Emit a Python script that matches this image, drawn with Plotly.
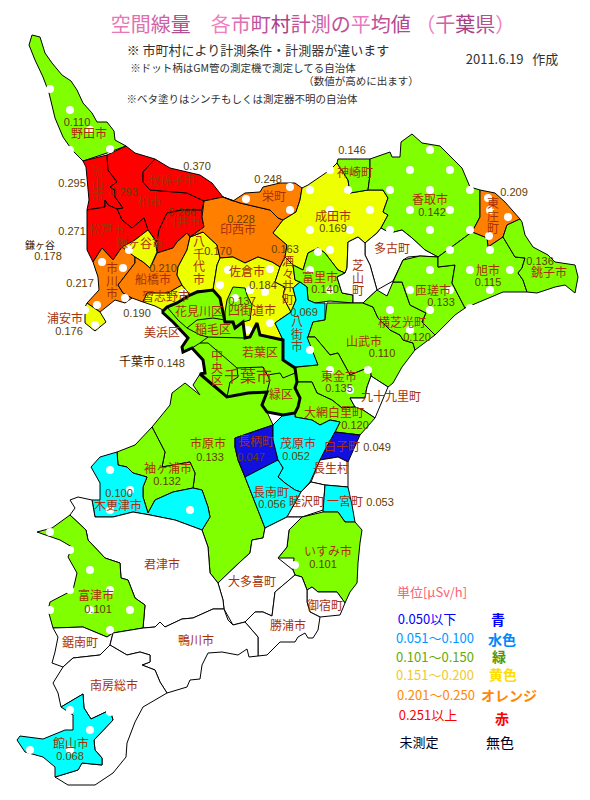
import plotly.graph_objects as go

# municipality name and measured value (None = not measured)
names = ["野田市","流山市","柏市","我孫子市","松戸市","白井市","鎌ヶ谷市","市川市","船橋市","浦安市","習志野市","八千代市",
         "印西市","栄町","成田市","神崎町","香取市","東庄町","佐倉市","四街道市","酒々井町","富里市","八街市","多古町","芝山町",
         "山武市","横芝光町","匝瑳市","旭市","銚子市","東金市","九十九里町","大網白里町","千葉市","市原市","袖ヶ浦市","木更津市",
         "長柄町","茂原市","白子町","長生村","長南町","睦沢町","一宮町","いすみ市","大多喜町","御宿町","勝浦市","君津市","富津市",
         "鋸南町","鴨川市","南房総市","館山市"]
values = [0.110,0.295,0.293,0.370,0.271,0.266,0.178,0.217,0.210,0.176,0.190,0.170,
          0.228,0.248,0.169,0.146,0.142,0.209,0.184,0.137,0.163,0.140,0.069,None,None,
          0.110,0.120,0.133,0.115,0.136,0.135,None,0.120,0.148,0.133,0.132,0.100,
          0.047,0.052,0.049,None,0.056,None,0.053,0.101,None,None,None,None,0.101,
          None,None,None,0.068]

# outlines (pixel positions)
outlines = {
"野田市":[(32,35),(40,37),(45,53),(52,63),(62,75),(71,81),(77,90),(83,103),(92,113),(97,122),(107,122),(114,131),(115,140),(126,146),(107,153),(83,161),(72,150),(63,137),(55,118),(49,93),(43,77),(35,60),(29,45)],
"流山市":[(83,161),(107,155),(108,170),(117,182),(110,187),(115,190),(115,197),(123,208),(117,209),(108,205),(105,200),(105,207),(87,210),(89,200),(86,167)],
"柏市":[(126,146),(135,153),(155,159),(143,172),(143,182),(150,190),(187,193),(204,201),(202,210),(182,210),(167,213),(159,230),(157,242),(148,230),(144,218),(132,228),(122,220),(117,209),(123,208),(115,197),(115,190),(110,187),(117,182),(108,170),(107,155)],
"我孫子市":[(155,159),(170,168),(200,175),(212,183),(223,197),(204,201),(187,193),(150,190),(143,182),(143,172)],
"松戸市":[(87,210),(105,207),(105,200),(108,205),(117,209),(122,220),(132,228),(144,218),(148,230),(135,240),(122,247),(113,260),(102,248),(93,262),(87,250)],
"白井市":[(167,213),(182,210),(202,210),(202,217),(204,227),(190,237),(187,233),(177,242),(173,248),(157,253),(157,242),(159,230)],
"鎌ヶ谷市":[(148,230),(155,240),(157,252),(153,262),(150,268),(143,262),(135,257),(127,252),(122,247),(135,240)],
"市川市":[(93,262),(102,248),(113,260),(122,247),(135,257),(135,263),(118,285),(123,293),(132,298),(125,303),(115,300),(100,312),(87,303),(99,290),(98,277)],
"船橋市":[(135,263),(135,257),(143,262),(150,268),(153,262),(157,253),(173,248),(177,242),(187,233),(190,237),(187,250),(178,267),(177,275),(182,285),(168,293),(147,293),(143,302),(132,298),(123,293),(118,285)],
"浦安市":[(85,307),(87,303),(97,310),(100,312),(106,322),(95,331),(85,323)],
"習志野市":[(147,293),(168,293),(182,285),(190,295),(178,304),(163,310),(155,306),(143,302)],
"八千代市":[(190,237),(203,232),(217,245),(220,258),(217,265),(215,278),(213,290),(197,291),(190,295),(182,285),(177,275),(178,267),(187,250)],
"印西市":[(204,201),(223,197),(240,203),(257,207),(270,210),(278,218),(283,220),(273,233),(287,245),(285,257),(280,267),(272,262),(258,257),(245,263),(233,257),(220,258),(217,245),(203,232),(190,237),(204,227),(202,217)],
"栄町":[(223,197),(233,201),(245,193),(260,192),(263,187),(280,183),(295,183),(302,188),(300,200),(296,212),(283,220),(278,218),(270,210),(257,207),(240,203)],
"成田市":[(302,188),(308,185),(330,170),(337,163),(348,180),(350,193),(368,190),(383,190),(388,198),(383,212),(388,215),(381,228),(377,233),(365,243),(358,237),(348,242),(347,268),(345,273),(338,270),(333,263),(325,253),(318,248),(308,253),(303,270),(293,265),(285,257),(287,245),(273,233),(283,220),(296,212),(300,200)],
"神崎町":[(337,163),(338,159),(370,159),(370,175),(368,190),(350,193),(348,180)],
"香取市":[(370,159),(390,152),(392,157),(400,157),(401,142),(412,134),(422,143),(440,146),(462,168),(470,187),(480,190),(480,217),(472,232),(438,257),(425,250),(412,238),(402,230),(390,233),(381,228),(388,215),(383,212),(388,198),(383,190),(368,190),(370,175)],
"東庄町":[(480,190),(495,193),(505,202),(520,219),(507,225),(503,237),(488,247),(487,238),(472,232),(480,217)],
"佐倉市":[(220,258),(233,257),(245,263),(258,257),(272,262),(280,267),(275,282),(285,287),(283,297),(291,312),(282,318),(275,323),(283,340),(260,335),(257,323),(250,337),(245,338),(243,322),(235,328),(233,322),(225,322),(220,298),(213,290),(215,278),(217,265)],
"四街道市":[(225,312),(227,300),(233,287),(245,288),(247,295),(252,305),(250,320),(243,322),(235,328),(233,322),(225,322)],
"酒々井町":[(280,267),(285,257),(293,265),(295,280),(300,282),(293,288),(296,300),(291,312),(283,297),(285,287),(275,282)],
"富里市":[(293,265),(303,270),(308,253),(318,248),(325,253),(333,263),(338,270),(345,273),(337,277),(342,293),(353,295),(353,303),(330,301),(315,303),(308,300),(307,287),(300,282),(295,280)],
"八街市":[(293,288),(300,282),(307,287),(308,300),(315,303),(325,303),(325,320),(313,322),(308,337),(315,355),(318,365),(298,367),(295,367),(283,360),(283,340),(275,323),(282,318),(291,312),(296,300)],
"多古町":[(365,243),(377,233),(381,228),(390,233),(402,230),(412,238),(425,250),(438,257),(420,256),(408,257),(403,260),(393,281),(377,290),(373,275),(370,265),(365,255)],
"芝山町":[(348,242),(358,237),(365,243),(365,255),(370,265),(373,275),(377,290),(363,303),(353,303),(353,295),(342,293),(337,277),(345,273),(347,268)],
"山武市":[(327,303),(353,303),(363,303),(373,307),(378,318),(390,330),(400,335),(403,340),(413,343),(415,350),(402,367),(393,383),(388,387),(371,376),(370,367),(350,375),(338,353),(330,355),(315,337),(308,337),(313,322),(325,320)],
"横芝光町":[(363,303),(377,290),(387,296),(393,282),(402,282),(410,305),(426,313),(422,322),(435,335),(415,350),(413,343),(403,340),(400,335),(390,330),(378,318),(373,307)],
"匝瑳市":[(403,260),(420,256),(438,257),(438,267),(455,265),(452,283),(465,308),(455,315),(435,335),(422,322),(426,313),(410,305),(402,282),(393,282)],
"旭市":[(438,257),(472,232),(487,238),(488,247),(503,237),(515,257),(525,258),(522,268),(518,273),(523,280),(527,292),(503,292),(465,308),(452,283),(455,265),(438,267)],
"銚子市":[(507,225),(520,219),(522,222),(525,235),(533,247),(548,255),(555,262),(575,265),(578,277),(575,293),(565,285),(555,287),(537,293),(527,292),(523,280),(518,273),(522,268),(525,258),(515,257),(503,237)],
"東金市":[(298,367),(318,365),(307,337),(315,337),(330,355),(338,353),(350,375),(370,367),(371,376),(367,387),(365,398),(350,398),(355,407),(342,408),(332,400),(317,393),(312,382),(297,382),(295,368)],
"九十九里町":[(371,376),(388,387),(375,418),(363,410),(355,407),(350,398),(365,398),(367,387)],
"大網白里町":[(297,382),(312,382),(317,393),(332,400),(342,408),(355,407),(363,410),(375,418),(360,435),(335,432),(340,422),(330,420),(320,425),(312,420),(295,417),(295,408),(298,407),(300,398),(295,388)],
"千葉市":[(162,312),(167,307),(177,303),(190,295),(197,292),(213,290),(220,298),(225,322),(233,322),(235,328),(243,322),(245,338),(250,337),(257,323),(260,335),(283,340),(283,360),(295,368),(297,382),(295,388),(300,398),(298,407),(295,413),(283,415),(267,412),(262,405),(267,392),(248,393),(227,397),(217,388),(207,380),(200,374),(205,373),(203,360),(192,348),(183,352),(182,347),(188,338),(178,327),(173,322)],
"市原市":[(200,374),(207,380),(217,388),(227,397),(248,393),(267,392),(262,405),(267,412),(273,425),(250,433),(235,438),(235,447),(238,460),(245,477),(255,503),(265,528),(263,538),(252,540),(250,553),(240,562),(218,583),(210,573),(208,547),(202,530),(210,517),(208,507),(202,490),(193,488),(195,473),(190,462),(162,467),(165,452),(152,427),(170,405),(172,393),(185,383),(200,395),(193,385)],
"袖ヶ浦市":[(152,427),(165,452),(162,467),(190,462),(195,473),(193,488),(173,492),(155,500),(148,513),(143,497),(143,487),(147,477),(133,473),(127,467),(118,465),(117,452),(135,445)],
"木更津市":[(117,452),(118,465),(127,467),(133,473),(147,477),(143,487),(143,497),(148,513),(155,500),(173,492),(193,488),(202,490),(208,507),(210,517),(202,530),(175,520),(150,515),(133,512),(113,517),(95,517),(92,500),(100,500),(100,483),(91,467),(100,457)],
"長柄町":[(235,438),(250,433),(273,425),(273,440),(278,460),(263,468),(245,477),(238,460),(235,447)],
"茂原市":[(273,425),(283,415),(295,413),(295,417),(312,420),(320,425),(330,420),(340,422),(335,432),(325,450),(320,460),(310,482),(301,492),(295,490),(285,483),(278,477),(283,468),(278,460),(273,440)],
"白子町":[(335,432),(360,435),(348,462),(338,457),(320,460),(325,450)],
"長生村":[(320,460),(338,457),(348,462),(348,487),(325,485),(311,482)],
"長南町":[(245,477),(263,468),(278,460),(283,468),(278,477),(285,483),(295,490),(301,492),(295,503),(287,517),(265,528),(255,503)],
"睦沢町":[(301,492),(311,482),(325,485),(323,510),(302,517),(287,517),(295,503)],
"一宮町":[(325,485),(348,487),(352,505),(355,522),(345,522),(338,512),(323,512)],
"いすみ市":[(302,517),(323,512),(338,512),(345,522),(355,522),(362,530),(360,543),(358,563),(357,583),(350,592),(345,603),(337,592),(318,592),(312,587),(307,590),(302,577),(295,575),(293,570),(294,558),(278,558),(287,547),(289,530)],
"大多喜町":[(265,528),(287,517),(302,517),(289,530),(287,547),(278,558),(293,570),(295,575),(287,582),(275,592),(272,616),(263,612),(255,612),(245,622),(233,625),(224,609),(223,600),(218,583),(240,562),(250,553),(252,540),(263,538)],
"御宿町":[(307,590),(312,587),(318,592),(337,592),(345,603),(340,615),(320,617),(310,612),(307,602)],
"勝浦市":[(275,592),(287,582),(295,575),(302,577),(307,590),(307,602),(310,612),(320,617),(318,630),(313,638),(308,638),(305,633),(298,637),(295,642),(280,642),(267,655),(258,656),(258,637),(245,622),(255,612),(263,612),(272,616)],
"君津市":[(70,500),(78,497),(92,500),(95,517),(113,517),(133,512),(150,515),(175,520),(202,530),(208,547),(210,573),(218,583),(223,600),(224,609),(213,609),(193,618),(182,619),(165,627),(160,622),(155,627),(143,628),(145,605),(135,598),(128,580),(121,578),(120,563),(105,558),(88,540),(86,530),(70,515),(75,508)],
"富津市":[(70,515),(86,530),(88,540),(105,558),(120,563),(121,578),(128,580),(135,598),(145,605),(143,628),(113,633),(107,637),(83,627),(53,628),(48,610),(50,602),(73,590),(77,573),(68,557),(72,547),(60,540),(37,532),(52,528)],
"鋸南町":[(53,628),(58,637),(55,652),(52,663),(63,667),(73,658),(100,655),(110,645),(113,633),(107,637),(83,627)],
"鴨川市":[(113,633),(143,628),(155,627),(160,622),(165,627),(182,619),(193,618),(213,609),(224,609),(228,620),(233,625),(245,622),(258,637),(258,656),(249,657),(247,649),(238,655),(222,652),(208,653),(202,665),(200,679),(190,680),(187,687),(167,693),(160,682),(155,670),(142,665),(150,662),(150,655),(140,652),(127,655),(115,648),(110,645)],
"南房総市":[(63,667),(73,658),(100,655),(110,645),(115,648),(127,655),(140,652),(150,655),(150,662),(142,665),(155,670),(160,682),(167,693),(143,707),(135,722),(127,743),(126,757),(113,773),(95,785),(68,785),(55,777),(78,770),(82,763),(102,765),(102,758),(95,750),(94,740),(113,720),(110,710),(91,719),(84,708),(83,694),(61,707),(58,693),(53,683)],
"館山市":[(83,694),(84,708),(91,719),(110,710),(113,720),(94,740),(95,750),(102,758),(102,765),(82,763),(78,770),(55,777),(55,767),(43,757),(25,752),(17,740),(20,736),(43,739),(65,730),(73,730),(73,715),(61,707)],
}

# thin ward lines inside Chiba city
ward_lines = [
    [(167,307),(178,320),(187,328),(197,320),(213,318),(225,320)],
    [(192,348),(200,343),(208,337),(230,338),(245,338)],
    [(187,328),(200,335),(208,337)],
    [(200,343),(208,343),(222,355),(237,368),(263,367),(267,375),(280,373),(283,378),(295,373)],
    [(237,368),(238,377),(230,382),(227,397)],
    [(263,367),(270,380),(267,392)],
]

# white dots of the GM-tube pattern
dots = [(50,89),(70,110),(90,130),(110,149),(70,150),(246,199),(290,187),(290,210),(330,170),(310,190),(348,190),(370,210),(330,210),
        (310,230),(350,230),(330,250),(318,252),(430,150),(410,170),(450,170),(390,190),(430,190),(470,190),(410,210),(450,210),(390,230),
        (430,230),(470,230),(450,250),(490,250),(488,198),(490,210),(508,217),(489,236),(430,270),(470,270),(510,270),(490,290),(410,290),
        (450,290),(390,310),(430,310),(410,330),(470,308),(330,290),(310,270),(310,350),(330,370),(350,390),(368,370),
        (228,270),(270,269),(220,285),(265,292),(250,290),(270,323),(248,330),(235,298),(183,293),(123,268),(102,262),(125,298),(97,305),
        (129,250),(85,310),(95,325),(110,470),(130,490),(110,510),(190,510),(50,610),(70,590),(90,570),(110,590),(130,610),(110,630),
        (90,610),(70,550),(50,532),(70,710),(90,730),(110,712),(30,750),(70,750),(295,565)]

name_labels = [("野田市",89,135),("柏市",150,203),("我孫子市",172,182),("松戸市",107,231),("白井市",183,223),
    ("鎌ヶ谷市",140,245),("栄町",274,198),("印西市",238,231),("成田市",333,218),
    ("神崎町",355,174),("香取市",430,201),("多古町",392,250),("富里市",320,279),
    ("佐倉市",247,273),("四街道市",252,312),("船橋市",153,281),("習志野市",166,298),
    ("浦安市",65,320),("花見川区",199,313),("稲毛区",213,331),("美浜区",162,334),("若葉区",260,354),("緑区",281,396),
    ("市原市",208,445),("袖ヶ浦市",168,470),("木更津市",118,507),("長柄町",256,443),("茂原市",298,445),("長南町",271,494),("白子町",342,448),
    ("長生村",331,470),("睦沢町",307,503),("一宮町",345,503),("いすみ市",328,553),("御宿町",325,607),("大多喜町",252,583),("勝浦市",288,627),
    ("鴨川市",196,642),("君津市",162,566),("富津市",96,597),("鋸南町",80,644),("南房総市",114,687),("館山市",71,745),("山武市",364,343),
    ("横芝光町",402,324),("匝瑳市",433,292),("旭市",488,272),("銚子市",549,274),("東金市",339,378),("九十九里町",391,398),("大網白里町",334,414)]

# labels written top to bottom: text, x, y of first character
vertical_labels = [("流山市",98,173),("八千代市",199,243),("酒々井町",288,263),("東庄町",493,205),("芝山町",358,267),
                   ("八街市",297,323),("市川市",112,270),("中央区",217,357)]

value_labels = [("0.110",77,123),("0.295",72,184),("0.293",124,193),("0.370",197,167),("0.266",182,213),("0.271",72,232),("0.178",48,257),
    ("0.248",268,180),("0.228",241,220),("0.170",218,252),("0.163",285,250),("0.169",333,229),("0.146",352,151),("0.142",432,213),("0.209",514,193),
    ("0.140",325,290),("0.184",263,286),("0.137",242,302),("0.069",304,313),("0.210",163,269),("0.217",80,284),("0.190",137,314),("0.176",69,332),
    ("0.148",171,364),("0.133",210,458),("0.132",167,482),("0.100",119,494),("0.047",251,458),("0.052",296,457),("0.056",272,505),("0.049",377,448),
    ("0.053",380,503),("0.101",323,565),("0.101",98,610),("0.068",70,757),("0.110",382,354),("0.120",417,338),("0.133",441,303),("0.115",488,283),
    ("0.136",540,262),("0.135",339,389),("0.120",355,426)]

title_chars = "空間線量　各市町村計測の平均値 （千葉県）"
title_colors = ["#e878b8","#e070b0","#d060a8","#b05090","#ffffff","#f080c0","#e070b0","#c05098","#a84088","#c05098","#d060a8","#c05098",
                "#e878c0","#c05098","#b04890","#ffffff","#f080c0","#d060a8","#a84088","#b05090","#f080c0"]

legend_ranges = ["0.050以下","0.051～0.100","0.101～0.150","0.151～0.200","0.201～0.250","0.251以上","未測定"]
legend_colors = ["#0000ff","#0099ff","#66aa00","#f0c830","#ff8800","#ff0000","#000020"]
legend_words = ["青","水色","緑","黄色","オレンジ","赤","無色"]
word_colors = ["#0000ff","#0088ff","#559900","#ffdd00","#ff8800","#ff0000","#000020"]
range_pos = [(427,621),(435,640),(435,659),(435,677),(436,697),(428,717),(419,744)]
word_pos = [(498,621),(502,641),(499,658),(503,676),(509,697),(502,720),(500,744)]

JP = "Noto Sans CJK JP"
DIGITS = "Liberation Sans"


def fill_for(v):
    if v is None:
        return "#ffffff"
    if v <= 0.050:
        return "#1010e0"
    if v <= 0.100:
        return "#00ffff"
    if v <= 0.150:
        return "#80ff00"
    if v <= 0.200:
        return "#eeff00"
    if v <= 0.250:
        return "#ff8000"
    return "#ff0000"


def add_text(fig, items, size, color, family=JP):
    fig.add_trace(go.Scatter(x=[i[1] for i in items], y=[i[2] for i in items], text=[i[0] for i in items],
                             mode="text", textposition="middle center", hoverinfo="skip",
                             textfont=dict(size=size, color=color, family=family)))


fig = go.Figure()

for name, v in zip(names, values):
    if name == "千葉市":
        continue
    pts = outlines[name]
    xs = [p[0] for p in pts] + [pts[0][0]]
    ys = [p[1] for p in pts] + [pts[0][1]]
    fig.add_trace(go.Scatter(x=xs, y=ys, mode="lines", fill="toself", fillcolor=fill_for(v),
                             line=dict(color="black", width=1), hoverinfo="skip"))

fig.add_trace(go.Scatter(x=[d[0] for d in dots], y=[d[1] for d in dots], mode="markers", hoverinfo="skip",
                         marker=dict(color="white", size=8, line=dict(width=0))))

# Chiba city goes on top with its heavy border
pts = outlines["千葉市"]
fig.add_trace(go.Scatter(x=[p[0] for p in pts] + [pts[0][0]], y=[p[1] for p in pts] + [pts[0][1]], mode="lines", fill="toself",
                         fillcolor=fill_for(values[names.index("千葉市")]), line=dict(color="black", width=3), hoverinfo="skip"))
for w in ward_lines:
    fig.add_trace(go.Scatter(x=[p[0] for p in w], y=[p[1] for p in w], mode="lines",
                             line=dict(color="black", width=1), hoverinfo="skip"))

add_text(fig, name_labels, 12, "#a83008")
vertical_items = []
for text, x, y in vertical_labels:
    for i, ch in enumerate(text):
        vertical_items.append((ch, x, y + i * 12.5))
add_text(fig, vertical_items, 12, "#a83008")
add_text(fig, value_labels, 11, "#604000", DIGITS)
add_text(fig, [("千葉市",248,378)], 16, "#a83008")
add_text(fig, [("千葉市",137,363)], 12, "#402000")
add_text(fig, [("鎌ヶ谷",40,246)], 10, "#402000")

title_html = "".join('<span style="color:%s">%s</span>' % (c, t) for t, c in zip(title_chars, title_colors))
add_text(fig, [(title_html,313,27)], 20, "#c05098")
add_text(fig, [("※ 市町村により計測条件・計測器が違います",258,52)], 13, "#303030")
add_text(fig, [("※ドット柄はGM管の測定機で測定してる自治体",243,69),("（数値が高めに出ます）",361,82),
               ("※ベタ塗りはシンチもしくは測定器不明の自治体",242,100)], 10.5, "#303030")
add_text(fig, [("2011.6.19   作成",512,61)], 13, "#303030")
add_text(fig, [("単位[μSv/h]",432,594)], 13, "#ff6070")

for label, c, p in zip(legend_ranges, legend_colors, range_pos):
    add_text(fig, [(label, p[0], p[1])], 13, c)
for label, c, p in zip(legend_words, word_colors, word_pos):
    text = label if label == "無色" else "<b>%s</b>" % label
    add_text(fig, [(text, p[0], p[1])], 14, c)

fig.update_layout(width=590, height=800, margin=dict(l=0, r=0, t=0, b=0), showlegend=False,
                  paper_bgcolor="white", plot_bgcolor="white",
                  xaxis=dict(range=[0, 590], visible=False, fixedrange=True),
                  yaxis=dict(range=[800, 0], visible=False, fixedrange=True))
fig.write_html("out.html", config={"displayModeBar": False},
               post_script="document.body.style.margin='0';document.body.style.overflow='hidden';")
